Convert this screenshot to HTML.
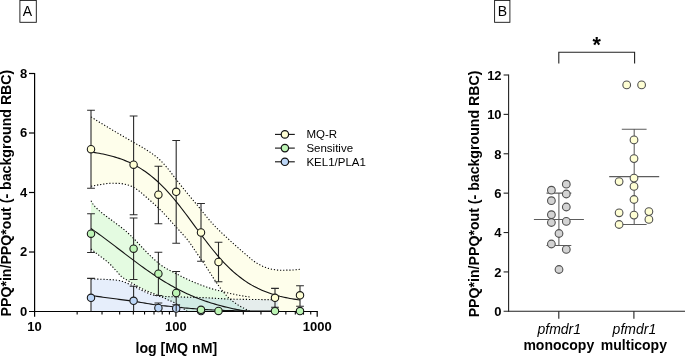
<!DOCTYPE html>
<html lang="en">
<head>
<meta charset="utf-8">
<title>Figure</title>
<style>
html,body{margin:0;padding:0;background:#fff;}
body{width:685px;height:356px;overflow:hidden;}
svg{display:block;}
text{fill:#000;}
svg{will-change:transform;opacity:0.999;}
</style>
</head>
<body>
<svg width="685" height="356" viewBox="0 0 685 356">
<rect width="685" height="356" fill="#fff"/>
<path d="M91 200.8 L92.99 204.03 L94.97 206.52 L96.96 208.49 L98.95 210.35 L100.94 212.11 L102.92 213.74 L104.91 215.26 L106.9 216.75 L108.89 218.22 L110.88 219.66 L112.86 221.11 L114.85 222.59 L116.84 224.07 L118.83 225.55 L120.81 227.05 L122.8 228.59 L124.79 230.2 L126.78 231.91 L128.76 233.72 L130.75 235.6 L132.74 237.55 L134.72 239.53 L136.71 241.61 L138.7 243.73 L140.69 245.87 L142.68 247.97 L144.66 250.07 L146.65 252.16 L148.64 254.16 L150.62 256.05 L152.61 257.92 L154.6 259.76 L156.59 261.53 L158.57 263.21 L160.56 264.78 L162.55 266.2 L164.54 267.48 L166.53 268.65 L168.51 269.75 L170.5 270.79 L172.49 271.8 L174.48 272.81 L176.46 273.84 L178.45 274.88 L180.44 275.91 L182.43 276.93 L184.41 277.91 L186.4 278.86 L188.39 279.77 L190.38 280.66 L192.36 281.52 L194.35 282.36 L196.34 283.16 L198.32 283.93 L200.31 284.7 L202.3 285.46 L204.29 286.19 L206.28 286.91 L208.26 287.6 L210.25 288.26 L212.24 288.88 L214.23 289.47 L216.21 290.03 L218.2 290.57 L220.19 291.08 L222.18 291.58 L224.16 292.06 L226.15 292.53 L228.14 292.98 L230.12 293.43 L232.11 293.87 L234.1 294.29 L236.09 294.71 L238.08 295.11 L240.06 295.49 L242.05 295.84 L244.04 296.17 L246.03 296.47 L248.01 296.74 L250 297 L250 311.5 L187.5 311.5 L185.49 310.1 L183.48 308.71 L181.47 307.34 L179.46 305.91 L177.45 304.51 L175.44 303.23 L173.43 302.16 L171.42 301.26 L169.41 300.42 L167.4 299.52 L165.39 298.57 L163.38 297.62 L161.36 296.73 L159.35 295.91 L157.34 295.12 L155.33 294.33 L153.32 293.54 L151.31 292.76 L149.3 291.96 L147.29 291.13 L145.28 290.24 L143.27 289.28 L141.26 288.28 L139.25 287.23 L137.24 286.16 L135.23 285.04 L133.22 283.87 L131.21 282.67 L129.2 281.44 L127.19 280.25 L125.18 279.09 L123.17 277.83 L121.16 276.33 L119.15 274.21 L117.14 271.88 L115.12 269.62 L113.11 267.39 L111.1 265.26 L109.09 263.31 L107.08 261.55 L105.07 259.91 L103.06 258.36 L101.05 256.85 L99.04 255.34 L97.03 253.81 L95.02 252.22 L93.01 250.61 L91 249Z" fill="#e4fbe1"/>
<path d="M91 116.9 L93.01 118.16 L95.02 119.42 L97.03 120.68 L99.04 121.92 L101.05 123.16 L103.06 124.39 L105.07 125.62 L107.08 126.84 L109.09 128.05 L111.1 129.26 L113.11 130.46 L115.12 131.65 L117.12 132.82 L119.13 133.99 L121.14 135.15 L123.15 136.31 L125.16 137.47 L127.17 138.62 L129.18 139.78 L131.19 140.94 L133.2 142.11 L135.21 143.27 L137.22 144.41 L139.23 145.55 L141.24 146.7 L143.25 147.89 L145.26 149.13 L147.27 150.42 L149.28 151.73 L151.29 153.09 L153.3 154.5 L155.31 156 L157.32 157.6 L159.33 159.34 L161.34 161.3 L163.35 163.44 L165.36 165.7 L167.37 168.03 L169.38 170.51 L171.38 173.13 L173.39 175.8 L175.4 178.44 L177.41 180.99 L179.42 183.52 L181.43 186.04 L183.44 188.54 L185.45 191.02 L187.46 193.48 L189.47 195.91 L191.48 198.31 L193.49 200.69 L195.5 203.07 L197.51 205.47 L199.52 207.94 L201.53 210.44 L203.54 212.95 L205.55 215.45 L207.56 217.91 L209.57 220.31 L211.58 222.61 L213.59 224.81 L215.6 226.9 L217.61 228.92 L219.62 230.88 L221.62 232.79 L223.63 234.66 L225.64 236.52 L227.65 238.35 L229.66 240.19 L231.67 242.03 L233.68 243.85 L235.69 245.65 L237.7 247.43 L239.71 249.19 L241.72 250.94 L243.73 252.67 L245.74 254.39 L247.75 256.1 L249.76 257.86 L251.77 259.57 L253.78 261.15 L255.79 262.51 L257.8 263.74 L259.81 264.86 L261.82 265.86 L263.83 266.71 L265.84 267.5 L267.85 268.21 L269.86 268.8 L271.87 269.23 L273.88 269.58 L275.88 269.89 L277.89 270.11 L279.9 270.2 L281.91 270.2 L283.92 270.18 L285.93 270.16 L287.94 270.13 L289.95 270.1 L291.96 270.03 L293.97 269.91 L295.98 269.73 L297.99 269.53 L300 269.3 L300 311.5 L251 311.5 L249 310.66 L247 309.77 L245 308.82 L243 307.83 L241 306.76 L239 305.57 L237 304.31 L235 302.95 L233 301.49 L231 299.9 L229 298.18 L227 296.22 L225 293.97 L223 291.54 L221 289.02 L219 286.28 L217 283.42 L215 280.46 L213 277.39 L211 274.27 L209 271.13 L207 268.02 L205 265 L203 262.06 L201 259.18 L199 256.31 L197 253.43 L195 250.49 L193 247.47 L191 244.51 L189 241.72 L187 239.17 L185 236.8 L183 234.54 L181 232.35 L179 230.19 L177 228.01 L175 225.78 L173 223.54 L171 221.31 L169 219.1 L167 216.9 L165 214.71 L163 212.56 L161 210.5 L159 208.55 L157 206.67 L155 204.84 L153 203.03 L151 201.25 L149 199.5 L147 197.78 L145 196.07 L143 194.33 L141 192.59 L139 190.94 L137 189.44 L135 188.11 L133 187 L131 186.12 L129 185.36 L127 184.74 L125 184.28 L123 183.87 L121 183.55 L119 183.4 L117 183.36 L115 183.33 L113 183.31 L111 183.3 L109 183.34 L107 183.53 L105 183.83 L103 184.16 L101 184.47 L99 184.79 L97 185.13 L95 185.5 L93 185.89 L91 186.3Z" fill="#fefeeb"/>
<path d="M91 279 L92.99 279.03 L94.98 279.07 L96.97 279.12 L98.96 279.17 L100.95 279.23 L102.94 279.29 L104.93 279.37 L106.91 279.45 L108.9 279.55 L110.89 279.66 L112.88 279.79 L114.87 279.95 L116.86 280.18 L118.85 280.49 L120.84 280.89 L122.83 281.48 L124.82 282.23 L126.81 283.06 L128.8 283.9 L130.79 284.78 L132.78 285.73 L134.77 286.73 L136.76 287.73 L138.74 288.73 L140.73 289.78 L142.72 290.83 L144.71 291.81 L146.7 292.66 L148.69 293.46 L150.68 294.21 L152.67 294.86 L154.66 295.34 L156.65 295.66 L158.64 295.93 L160.63 296.15 L162.62 296.32 L164.61 296.45 L166.6 296.55 L168.59 296.64 L170.57 296.72 L172.56 296.79 L174.55 296.85 L176.54 296.92 L178.53 296.98 L180.52 297.03 L182.51 297.08 L184.5 297.12 L186.49 297.16 L188.48 297.21 L190.47 297.25 L192.46 297.29 L194.45 297.34 L196.44 297.39 L198.43 297.45 L200.41 297.51 L202.4 297.59 L204.39 297.68 L206.38 297.78 L208.37 297.89 L210.36 298.01 L212.35 298.13 L214.34 298.26 L216.33 298.39 L218.32 298.51 L220.31 298.63 L222.3 298.74 L224.29 298.84 L226.28 298.94 L228.27 299.02 L230.26 299.08 L232.24 299.13 L234.23 299.18 L236.22 299.22 L238.21 299.26 L240.2 299.29 L242.19 299.33 L244.18 299.36 L246.17 299.39 L248.16 299.42 L250.15 299.44 L252.14 299.47 L254.13 299.49 L256.12 299.51 L258.11 299.53 L260.1 299.56 L262.09 299.58 L264.07 299.6 L266.06 299.62 L268.05 299.63 L270.04 299.65 L272.03 299.66 L274.02 299.68 L276.01 299.69 L278 299.7 L278 311.5 L276.01 311.5 L274.02 311.5 L272.03 311.5 L270.04 311.5 L268.05 311.5 L266.06 311.5 L264.07 311.5 L262.09 311.5 L260.1 311.5 L258.11 311.5 L256.12 311.5 L254.13 311.5 L252.14 311.5 L250.15 311.5 L248.16 311.5 L246.17 311.5 L244.18 311.5 L242.19 311.5 L240.2 311.5 L238.21 311.5 L236.22 311.5 L234.23 311.5 L232.24 311.5 L230.26 311.5 L228.27 311.5 L226.28 311.5 L224.29 311.5 L222.3 311.5 L220.31 311.5 L218.32 311.5 L216.33 311.5 L214.34 311.5 L212.35 311.5 L210.36 311.5 L208.37 311.5 L206.38 311.5 L204.39 311.5 L202.4 311.5 L200.41 311.5 L198.43 311.5 L196.44 311.5 L194.45 311.5 L192.46 311.5 L190.47 311.5 L188.48 311.5 L186.49 311.5 L184.5 311.5 L182.51 311.5 L180.52 311.5 L178.53 311.5 L176.54 311.5 L174.55 311.5 L172.56 311.5 L170.57 311.5 L168.59 311.5 L166.6 311.5 L164.61 311.5 L162.62 311.5 L160.63 311.5 L158.64 311.5 L156.65 311.5 L154.66 311.5 L152.67 311.5 L150.68 311.5 L148.69 311.5 L146.7 311.5 L144.71 311.5 L142.72 311.5 L140.73 311.5 L138.74 311.5 L136.76 311.5 L134.77 311.5 L132.78 311.5 L130.79 311.5 L128.8 311.5 L126.81 311.5 L124.82 311.5 L122.83 311.5 L120.84 311.5 L118.85 311.5 L116.86 311.5 L114.87 311.5 L112.88 311.5 L110.89 311.5 L108.9 311.5 L106.91 311.5 L104.93 311.5 L102.94 311.5 L100.95 311.5 L98.96 311.5 L96.97 311.5 L94.98 311.5 L92.99 311.5 L91 311.5Z" fill="rgba(150,185,240,0.24)"/>
<path d="M91 279 L92.99 279.03 L94.98 279.07 L96.97 279.12 L98.96 279.17 L100.95 279.23 L102.94 279.29 L104.93 279.37 L106.91 279.45 L108.9 279.55 L110.89 279.66 L112.88 279.79 L114.87 279.95 L116.86 280.18 L118.85 280.49 L120.84 280.89 L122.83 281.48 L124.82 282.23 L126.81 283.06 L128.8 283.9 L130.79 284.78 L132.78 285.73 L134.77 286.73 L136.76 287.73 L138.74 288.73 L140.73 289.78 L142.72 290.83 L144.71 291.81 L146.7 292.66 L148.69 293.46 L150.68 294.21 L152.67 294.86 L154.66 295.34 L156.65 295.66 L158.64 295.93 L160.63 296.15 L162.62 296.32 L164.61 296.45 L166.6 296.55 L168.59 296.64 L170.57 296.72 L172.56 296.79 L174.55 296.85 L176.54 296.92 L178.53 296.98 L180.52 297.03 L182.51 297.08 L184.5 297.12 L186.49 297.16 L188.48 297.21 L190.47 297.25 L192.46 297.29 L194.45 297.34 L196.44 297.39 L198.43 297.45 L200.41 297.51 L202.4 297.59 L204.39 297.68 L206.38 297.78 L208.37 297.89 L210.36 298.01 L212.35 298.13 L214.34 298.26 L216.33 298.39 L218.32 298.51 L220.31 298.63 L222.3 298.74 L224.29 298.84 L226.28 298.94 L228.27 299.02 L230.26 299.08 L232.24 299.13 L234.23 299.18 L236.22 299.22 L238.21 299.26 L240.2 299.29 L242.19 299.33 L244.18 299.36 L246.17 299.39 L248.16 299.42 L250.15 299.44 L252.14 299.47 L254.13 299.49 L256.12 299.51 L258.11 299.53 L260.1 299.56 L262.09 299.58 L264.07 299.6 L266.06 299.62 L268.05 299.63 L270.04 299.65 L272.03 299.66 L274.02 299.68 L276.01 299.69 L278 299.7" fill="none" stroke="#000" stroke-width="1.1" stroke-dasharray="1.2 1.9"/>
<path d="M91 200.8 L92.99 204.03 L94.97 206.52 L96.96 208.49 L98.95 210.35 L100.94 212.11 L102.92 213.74 L104.91 215.26 L106.9 216.75 L108.89 218.22 L110.88 219.66 L112.86 221.11 L114.85 222.59 L116.84 224.07 L118.83 225.55 L120.81 227.05 L122.8 228.59 L124.79 230.2 L126.78 231.91 L128.76 233.72 L130.75 235.6 L132.74 237.55 L134.72 239.53 L136.71 241.61 L138.7 243.73 L140.69 245.87 L142.68 247.97 L144.66 250.07 L146.65 252.16 L148.64 254.16 L150.62 256.05 L152.61 257.92 L154.6 259.76 L156.59 261.53 L158.57 263.21 L160.56 264.78 L162.55 266.2 L164.54 267.48 L166.53 268.65 L168.51 269.75 L170.5 270.79 L172.49 271.8 L174.48 272.81 L176.46 273.84 L178.45 274.88 L180.44 275.91 L182.43 276.93 L184.41 277.91 L186.4 278.86 L188.39 279.77 L190.38 280.66 L192.36 281.52 L194.35 282.36 L196.34 283.16 L198.32 283.93 L200.31 284.7 L202.3 285.46 L204.29 286.19 L206.28 286.91 L208.26 287.6 L210.25 288.26 L212.24 288.88 L214.23 289.47 L216.21 290.03 L218.2 290.57 L220.19 291.08 L222.18 291.58 L224.16 292.06 L226.15 292.53 L228.14 292.98 L230.12 293.43 L232.11 293.87 L234.1 294.29 L236.09 294.71 L238.08 295.11 L240.06 295.49 L242.05 295.84 L244.04 296.17 L246.03 296.47 L248.01 296.74 L250 297" fill="none" stroke="#000" stroke-width="1.1" stroke-dasharray="1.2 1.9"/>
<path d="M91 249 L93.01 250.61 L95.02 252.22 L97.03 253.81 L99.04 255.34 L101.05 256.85 L103.06 258.36 L105.07 259.91 L107.08 261.55 L109.09 263.31 L111.1 265.26 L113.11 267.39 L115.12 269.62 L117.14 271.88 L119.15 274.21 L121.16 276.33 L123.17 277.83 L125.18 279.09 L127.19 280.25 L129.2 281.44 L131.21 282.67 L133.22 283.87 L135.23 285.04 L137.24 286.16 L139.25 287.23 L141.26 288.28 L143.27 289.28 L145.28 290.24 L147.29 291.13 L149.3 291.96 L151.31 292.76 L153.32 293.54 L155.33 294.33 L157.34 295.12 L159.35 295.91 L161.36 296.73 L163.38 297.62 L165.39 298.57 L167.4 299.52 L169.41 300.42 L171.42 301.26 L173.43 302.16 L175.44 303.23 L177.45 304.51 L179.46 305.91 L181.47 307.34 L183.48 308.71 L185.49 310.1 L187.5 311.5" fill="none" stroke="#000" stroke-width="1.1" stroke-dasharray="1.2 1.9"/>
<path d="M91 116.9 L93.01 118.16 L95.02 119.42 L97.03 120.68 L99.04 121.92 L101.05 123.16 L103.06 124.39 L105.07 125.62 L107.08 126.84 L109.09 128.05 L111.1 129.26 L113.11 130.46 L115.12 131.65 L117.12 132.82 L119.13 133.99 L121.14 135.15 L123.15 136.31 L125.16 137.47 L127.17 138.62 L129.18 139.78 L131.19 140.94 L133.2 142.11 L135.21 143.27 L137.22 144.41 L139.23 145.55 L141.24 146.7 L143.25 147.89 L145.26 149.13 L147.27 150.42 L149.28 151.73 L151.29 153.09 L153.3 154.5 L155.31 156 L157.32 157.6 L159.33 159.34 L161.34 161.3 L163.35 163.44 L165.36 165.7 L167.37 168.03 L169.38 170.51 L171.38 173.13 L173.39 175.8 L175.4 178.44 L177.41 180.99 L179.42 183.52 L181.43 186.04 L183.44 188.54 L185.45 191.02 L187.46 193.48 L189.47 195.91 L191.48 198.31 L193.49 200.69 L195.5 203.07 L197.51 205.47 L199.52 207.94 L201.53 210.44 L203.54 212.95 L205.55 215.45 L207.56 217.91 L209.57 220.31 L211.58 222.61 L213.59 224.81 L215.6 226.9 L217.61 228.92 L219.62 230.88 L221.62 232.79 L223.63 234.66 L225.64 236.52 L227.65 238.35 L229.66 240.19 L231.67 242.03 L233.68 243.85 L235.69 245.65 L237.7 247.43 L239.71 249.19 L241.72 250.94 L243.73 252.67 L245.74 254.39 L247.75 256.1 L249.76 257.86 L251.77 259.57 L253.78 261.15 L255.79 262.51 L257.8 263.74 L259.81 264.86 L261.82 265.86 L263.83 266.71 L265.84 267.5 L267.85 268.21 L269.86 268.8 L271.87 269.23 L273.88 269.58 L275.88 269.89 L277.89 270.11 L279.9 270.2 L281.91 270.2 L283.92 270.18 L285.93 270.16 L287.94 270.13 L289.95 270.1 L291.96 270.03 L293.97 269.91 L295.98 269.73 L297.99 269.53 L300 269.3" fill="none" stroke="#000" stroke-width="1.1" stroke-dasharray="1.2 1.9"/>
<path d="M91 186.3 L93 185.89 L95 185.5 L97 185.13 L99 184.79 L101 184.47 L103 184.16 L105 183.83 L107 183.53 L109 183.34 L111 183.3 L113 183.31 L115 183.33 L117 183.36 L119 183.4 L121 183.55 L123 183.87 L125 184.28 L127 184.74 L129 185.36 L131 186.12 L133 187 L135 188.11 L137 189.44 L139 190.94 L141 192.59 L143 194.33 L145 196.07 L147 197.78 L149 199.5 L151 201.25 L153 203.03 L155 204.84 L157 206.67 L159 208.55 L161 210.5 L163 212.56 L165 214.71 L167 216.9 L169 219.1 L171 221.31 L173 223.54 L175 225.78 L177 228.01 L179 230.19 L181 232.35 L183 234.54 L185 236.8 L187 239.17 L189 241.72 L191 244.51 L193 247.47 L195 250.49 L197 253.43 L199 256.31 L201 259.18 L203 262.06 L205 265 L207 268.02 L209 271.13 L211 274.27 L213 277.39 L215 280.46 L217 283.42 L219 286.28 L221 289.02 L223 291.54 L225 293.97 L227 296.22 L229 298.18 L231 299.9 L233 301.49 L235 302.95 L237 304.31 L239 305.57 L241 306.76 L243 307.83 L245 308.82 L247 309.77 L249 310.66 L251 311.5" fill="none" stroke="#000" stroke-width="1.1" stroke-dasharray="1.2 1.9"/>
<path d="M34.6 72.9 V316.7" stroke="#000" stroke-width="1.2" fill="none"/>
<path d="M29 311.5 H317.8" stroke="#000" stroke-width="1.2" fill="none"/>
<path d="M29 252 H34.6" stroke="#000" stroke-width="1.2" fill="none"/>
<path d="M29 192.5 H34.6" stroke="#000" stroke-width="1.2" fill="none"/>
<path d="M29 133 H34.6" stroke="#000" stroke-width="1.2" fill="none"/>
<path d="M29 73.5 H34.6" stroke="#000" stroke-width="1.2" fill="none"/>
<path d="M175.9 311.5 V316.7" stroke="#000" stroke-width="1.2" fill="none"/>
<path d="M317.2 311.5 V316.7" stroke="#000" stroke-width="1.2" fill="none"/>
<path d="M77.14 311.5 V314.6" stroke="#000" stroke-width="1.1" fill="none"/>
<path d="M102.02 311.5 V314.6" stroke="#000" stroke-width="1.1" fill="none"/>
<path d="M119.67 311.5 V314.6" stroke="#000" stroke-width="1.1" fill="none"/>
<path d="M133.36 311.5 V314.6" stroke="#000" stroke-width="1.1" fill="none"/>
<path d="M144.55 311.5 V314.6" stroke="#000" stroke-width="1.1" fill="none"/>
<path d="M154.01 311.5 V314.6" stroke="#000" stroke-width="1.1" fill="none"/>
<path d="M162.21 311.5 V314.6" stroke="#000" stroke-width="1.1" fill="none"/>
<path d="M169.43 311.5 V314.6" stroke="#000" stroke-width="1.1" fill="none"/>
<path d="M218.44 311.5 V314.6" stroke="#000" stroke-width="1.1" fill="none"/>
<path d="M243.32 311.5 V314.6" stroke="#000" stroke-width="1.1" fill="none"/>
<path d="M260.97 311.5 V314.6" stroke="#000" stroke-width="1.1" fill="none"/>
<path d="M274.66 311.5 V314.6" stroke="#000" stroke-width="1.1" fill="none"/>
<path d="M285.85 311.5 V314.6" stroke="#000" stroke-width="1.1" fill="none"/>
<path d="M295.31 311.5 V314.6" stroke="#000" stroke-width="1.1" fill="none"/>
<path d="M303.51 311.5 V314.6" stroke="#000" stroke-width="1.1" fill="none"/>
<path d="M310.73 311.5 V314.6" stroke="#000" stroke-width="1.1" fill="none"/>
<path d="M91 278.4 V311.2M87.1 278.4 H94.9" stroke="#2a2a2a" stroke-width="1.1" fill="none"/>
<path d="M133.6 286.3 V311.2M129.7 286.3 H137.5" stroke="#2a2a2a" stroke-width="1.1" fill="none"/>
<path d="M158.4 303 V311.2M154.5 303 H162.3" stroke="#2a2a2a" stroke-width="1.1" fill="none"/>
<path d="M176.2 304.7 V311.2M172.3 304.7 H180.1" stroke="#2a2a2a" stroke-width="1.1" fill="none"/>
<path d="M91 295.5 L93 295.78 L95 296.06 L97 296.34 L99 296.62 L101 296.89 L103 297.17 L105 297.44 L107 297.72 L109 297.99 L111 298.26 L113 298.54 L115 298.8 L117 299.07 L119 299.33 L121 299.59 L123 299.85 L125 300.11 L127 300.37 L129 300.64 L131 300.92 L133 301.2 L135 301.49 L137 301.8 L139 302.12 L141 302.45 L143 302.79 L145 303.13 L147 303.47 L149 303.8 L151 304.13 L153 304.44 L155 304.73 L157 305.01 L159 305.26 L161 305.49 L163 305.71 L165 305.92 L167 306.12 L169 306.32 L171 306.51 L173 306.7 L175 306.9 L177 307.1 L179 307.31 L181 307.52 L183 307.73 L185 307.93 L187 308.13 L189 308.31 L191 308.48 L193 308.65 L195 308.81 L197 308.97 L199 309.12 L201 309.27 L203 309.4 L205 309.53 L207 309.65 L209 309.75 L211 309.86 L213 309.96 L215 310.05 L217 310.14 L219 310.23 L221 310.31 L223 310.39 L225 310.46 L227 310.52 L229 310.58 L231 310.62 L233 310.67 L235 310.71 L237 310.74 L239 310.78 L241 310.81 L243 310.84 L245 310.87 L247 310.9 L249 310.93 L251 310.95 L253 310.98 L255 311 L257 311.02 L259 311.04 L261 311.07 L263 311.09 L265 311.11 L267 311.12 L269 311.14 L271 311.16 L273 311.17 L275 311.19 L277 311.2" fill="none" stroke="#111" stroke-width="1.1"/>
<circle cx="91" cy="297.8" r="3.7" fill="#bcd6f7" stroke="#1a1a1a" stroke-width="1.1"/>
<circle cx="133.6" cy="300.8" r="3.7" fill="#bcd6f7" stroke="#1a1a1a" stroke-width="1.1"/>
<circle cx="158.4" cy="308" r="3.7" fill="#bcd6f7" stroke="#1a1a1a" stroke-width="1.1"/>
<circle cx="176.2" cy="308.5" r="3.7" fill="#bcd6f7" stroke="#1a1a1a" stroke-width="1.1"/>
<circle cx="201" cy="311" r="3.7" fill="#bcd6f7" stroke="#1a1a1a" stroke-width="1.1"/>
<path d="M91 213.8 V252.5M87.1 213.8 H94.9M87.1 252.5 H94.9" stroke="#2a2a2a" stroke-width="1.1" fill="none"/>
<path d="M133.6 218 V279.5M129.7 218 H137.5M129.7 279.5 H137.5" stroke="#2a2a2a" stroke-width="1.1" fill="none"/>
<path d="M158.4 252.2 V295.5M154.5 252.2 H162.3M154.5 295.5 H162.3" stroke="#2a2a2a" stroke-width="1.1" fill="none"/>
<path d="M176.2 271.5 V311.2M172.3 271.5 H180.1" stroke="#2a2a2a" stroke-width="1.1" fill="none"/>
<path d="M91 228.53 L93 229.92 L95 231.33 L97 232.76 L99 234.2 L101 235.66 L103 237.13 L105 238.61 L107 240.11 L109 241.61 L111 243.13 L113 244.65 L115 246.18 L117 247.71 L119 249.24 L121 250.77 L123 252.31 L125 253.84 L127 255.36 L129 256.89 L131 258.4 L133 259.91 L135 261.41 L137 262.9 L139 264.37 L141 265.83 L143 267.28 L145 268.71 L147 270.13 L149 271.52 L151 272.9 L153 274.26 L155 275.59 L157 276.91 L159 278.2 L161 279.47 L163 280.71 L165 281.93 L167 283.13 L169 284.3 L171 285.44 L173 286.56 L175 287.65 L177 288.72 L179 289.76 L181 290.77 L183 291.76 L185 292.72 L187 293.65 L189 294.56 L191 295.45 L193 296.3 L195 297.14 L197 297.94 L199 298.73 L201 299.49 L203 300.22 L205 300.93 L207 301.62 L209 302.29 L211 302.93 L213 303.55 L215 304.15 L217 304.73 L219 305.29 L221 305.84 L223 306.36 L225 306.86 L227 307.34 L229 307.81 L231 308.26 L233 308.69 L235 309.11 L237 309.51 L239 309.9 L241 310.27 L243 310.63 L245 310.97 L247 311.3" fill="none" stroke="#111" stroke-width="1.1"/>
<circle cx="91" cy="233.7" r="3.7" fill="#bdf5b5" stroke="#1a1a1a" stroke-width="1.1"/>
<circle cx="133.6" cy="248.7" r="3.7" fill="#bdf5b5" stroke="#1a1a1a" stroke-width="1.1"/>
<circle cx="158.4" cy="273.7" r="3.7" fill="#bdf5b5" stroke="#1a1a1a" stroke-width="1.1"/>
<circle cx="176.2" cy="293" r="3.7" fill="#bdf5b5" stroke="#1a1a1a" stroke-width="1.1"/>
<circle cx="201" cy="309.8" r="3.7" fill="#bdf5b5" stroke="#1a1a1a" stroke-width="1.1"/>
<circle cx="218.5" cy="310.9" r="3.7" fill="#bdf5b5" stroke="#1a1a1a" stroke-width="1.1"/>
<circle cx="275" cy="311.1" r="3.7" fill="#bdf5b5" stroke="#1a1a1a" stroke-width="1.1"/>
<circle cx="300" cy="311.1" r="3.7" fill="#bdf5b5" stroke="#1a1a1a" stroke-width="1.1"/>
<path d="M91 110.3 V188.3M87.1 110.3 H94.9M87.1 188.3 H94.9" stroke="#2a2a2a" stroke-width="1.1" fill="none"/>
<path d="M133.6 116 V214.7M129.7 116 H137.5M129.7 214.7 H137.5" stroke="#2a2a2a" stroke-width="1.1" fill="none"/>
<path d="M158.4 166.2 V223.7M154.5 166.2 H162.3M154.5 223.7 H162.3" stroke="#2a2a2a" stroke-width="1.1" fill="none"/>
<path d="M176.2 140.5 V243.2M172.3 140.5 H180.1M172.3 243.2 H180.1" stroke="#2a2a2a" stroke-width="1.1" fill="none"/>
<path d="M201 203.5 V261.3M197.1 203.5 H204.9M197.1 261.3 H204.9" stroke="#2a2a2a" stroke-width="1.1" fill="none"/>
<path d="M218.5 242.3 V281.7M214.6 242.3 H222.4M214.6 281.7 H222.4" stroke="#2a2a2a" stroke-width="1.1" fill="none"/>
<path d="M275 288.4 V307.2M271.1 288.4 H278.9M271.1 307.2 H278.9" stroke="#2a2a2a" stroke-width="1.1" fill="none"/>
<path d="M300 285.7 V306.2M296.1 285.7 H303.9M296.1 306.2 H303.9" stroke="#2a2a2a" stroke-width="1.1" fill="none"/>
<path d="M91 152.03 L93.01 152.32 L95.02 152.63 L97.03 152.96 L99.04 153.31 L101.05 153.68 L103.06 154.08 L105.07 154.51 L107.08 154.96 L109.09 155.45 L111.1 155.96 L113.11 156.51 L115.12 157.1 L117.12 157.72 L119.13 158.38 L121.14 159.09 L123.15 159.83 L125.16 160.63 L127.17 161.47 L129.18 162.36 L131.19 163.3 L133.2 164.3 L135.21 165.35 L137.22 166.47 L139.23 167.64 L141.24 168.88 L143.25 170.18 L145.26 171.55 L147.27 172.99 L149.28 174.5 L151.29 176.08 L153.3 177.73 L155.31 179.46 L157.32 181.26 L159.33 183.13 L161.34 185.08 L163.35 187.1 L165.36 189.19 L167.37 191.35 L169.38 193.58 L171.38 195.88 L173.39 198.24 L175.4 200.66 L177.41 203.13 L179.42 205.65 L181.43 208.23 L183.44 210.84 L185.45 213.49 L187.46 216.16 L189.47 218.87 L191.48 221.58 L193.49 224.31 L195.5 227.05 L197.51 229.78 L199.52 232.5 L201.53 235.2 L203.54 237.88 L205.55 240.54 L207.56 243.15 L209.57 245.73 L211.58 248.26 L213.59 250.75 L215.6 253.17 L217.61 255.54 L219.62 257.85 L221.62 260.09 L223.63 262.26 L225.64 264.36 L227.65 266.39 L229.66 268.35 L231.67 270.24 L233.68 272.05 L235.69 273.79 L237.7 275.45 L239.71 277.04 L241.72 278.56 L243.73 280.01 L245.74 281.39 L247.75 282.71 L249.76 283.95 L251.77 285.14 L253.78 286.26 L255.79 287.32 L257.8 288.33 L259.81 289.28 L261.82 290.18 L263.83 291.03 L265.84 291.83 L267.85 292.58 L269.86 293.29 L271.87 293.96 L273.88 294.59 L275.88 295.18 L277.89 295.73 L279.9 296.26 L281.91 296.74 L283.92 297.2 L285.93 297.63 L287.94 298.04 L289.95 298.42 L291.96 298.77 L293.97 299.1 L295.98 299.41 L297.99 299.7 L300 299.97" fill="none" stroke="#111" stroke-width="1.1"/>
<circle cx="91" cy="149.2" r="3.7" fill="#ffffd4" stroke="#1a1a1a" stroke-width="1.1"/>
<circle cx="133.6" cy="164.7" r="3.7" fill="#ffffd4" stroke="#1a1a1a" stroke-width="1.1"/>
<circle cx="158.4" cy="194.7" r="3.7" fill="#ffffd4" stroke="#1a1a1a" stroke-width="1.1"/>
<circle cx="176.2" cy="191.8" r="3.7" fill="#ffffd4" stroke="#1a1a1a" stroke-width="1.1"/>
<circle cx="201" cy="232.5" r="3.7" fill="#ffffd4" stroke="#1a1a1a" stroke-width="1.1"/>
<circle cx="218.5" cy="262" r="3.7" fill="#ffffd4" stroke="#1a1a1a" stroke-width="1.1"/>
<circle cx="275" cy="297.8" r="3.7" fill="#ffffd4" stroke="#1a1a1a" stroke-width="1.1"/>
<circle cx="300" cy="295.3" r="3.7" fill="#ffffd4" stroke="#1a1a1a" stroke-width="1.1"/>
<text x="27.2" y="315.9" text-anchor="end" font-size="13" font-family="Liberation Sans, Arial, sans-serif" font-weight="bold">0</text>
<text x="27.2" y="256.4" text-anchor="end" font-size="13" font-family="Liberation Sans, Arial, sans-serif" font-weight="bold">2</text>
<text x="27.2" y="196.9" text-anchor="end" font-size="13" font-family="Liberation Sans, Arial, sans-serif" font-weight="bold">4</text>
<text x="27.2" y="137.4" text-anchor="end" font-size="13" font-family="Liberation Sans, Arial, sans-serif" font-weight="bold">6</text>
<text x="27.2" y="77.9" text-anchor="end" font-size="13" font-family="Liberation Sans, Arial, sans-serif" font-weight="bold">8</text>
<text x="34.6" y="330.8" text-anchor="middle" font-size="13" font-family="Liberation Sans, Arial, sans-serif" font-weight="bold">10</text>
<text x="175.9" y="330.8" text-anchor="middle" font-size="13" font-family="Liberation Sans, Arial, sans-serif" font-weight="bold">100</text>
<text x="317.2" y="330.8" text-anchor="middle" font-size="13" font-family="Liberation Sans, Arial, sans-serif" font-weight="bold">1000</text>
<text x="176.3" y="352.7" text-anchor="middle" font-size="14.15" font-family="Liberation Sans, Arial, sans-serif" font-weight="bold">log [MQ nM]</text>
<text transform="translate(11 193.1) rotate(-90)" text-anchor="middle" font-size="14.15" font-family="Liberation Sans, Arial, sans-serif" font-weight="bold">PPQ*in/PPQ*out (- background RBC)</text>
<rect x="19.9" y="0.4" width="16.4" height="21.9" fill="#fff" stroke="#111" stroke-width="0.9"/>
<text x="27.5" y="15.9" text-anchor="middle" font-size="14" font-family="Liberation Sans, Arial, sans-serif">A</text>
<rect x="494.6" y="0.4" width="15.3" height="21.9" fill="#fff" stroke="#111" stroke-width="0.9"/>
<text x="502.5" y="16.1" text-anchor="middle" font-size="14" font-family="Liberation Sans, Arial, sans-serif">B</text>
<path d="M275 134.4 H294.8" stroke="#111" stroke-width="1.1"/>
<circle cx="284.9" cy="134.4" r="3.7" fill="#ffffd4" stroke="#111" stroke-width="1.2"/>
<text x="306.4" y="138.3" font-size="11.5" font-family="Liberation Sans, Arial, sans-serif">MQ-R</text>
<path d="M275 148.1 H294.8" stroke="#111" stroke-width="1.1"/>
<circle cx="284.9" cy="148.1" r="3.7" fill="#bdf5b5" stroke="#111" stroke-width="1.2"/>
<text x="306.4" y="152" font-size="11.5" font-family="Liberation Sans, Arial, sans-serif">Sensitive</text>
<path d="M275 161.8 H294.8" stroke="#111" stroke-width="1.1"/>
<circle cx="284.9" cy="161.8" r="3.7" fill="#bcd6f7" stroke="#111" stroke-width="1.2"/>
<text x="306.4" y="165.7" font-size="11.5" font-family="Liberation Sans, Arial, sans-serif">KEL1/PLA1</text>
<path d="M508.6 74.5 V311.8" stroke="#222" stroke-width="1.1" fill="none"/>
<path d="M503.6 311.3 H686" stroke="#222" stroke-width="1.1" fill="none"/>
<path d="M503.6 271.92 H508.6" stroke="#222" stroke-width="1.1" fill="none"/>
<path d="M503.6 232.53 H508.6" stroke="#222" stroke-width="1.1" fill="none"/>
<path d="M503.6 193.15 H508.6" stroke="#222" stroke-width="1.1" fill="none"/>
<path d="M503.6 153.77 H508.6" stroke="#222" stroke-width="1.1" fill="none"/>
<path d="M503.6 114.38 H508.6" stroke="#222" stroke-width="1.1" fill="none"/>
<path d="M503.6 75 H508.6" stroke="#222" stroke-width="1.1" fill="none"/>
<path d="M558.8 311.3 V318.7" stroke="#222" stroke-width="1.1" fill="none"/>
<path d="M633.9 311.3 V318.7" stroke="#222" stroke-width="1.1" fill="none"/>
<text x="501.6" y="316.25" text-anchor="end" font-size="13" font-family="Liberation Sans, Arial, sans-serif" font-weight="bold">0</text>
<text x="501.6" y="276.87" text-anchor="end" font-size="13" font-family="Liberation Sans, Arial, sans-serif" font-weight="bold">2</text>
<text x="501.6" y="237.48" text-anchor="end" font-size="13" font-family="Liberation Sans, Arial, sans-serif" font-weight="bold">4</text>
<text x="501.6" y="198.1" text-anchor="end" font-size="13" font-family="Liberation Sans, Arial, sans-serif" font-weight="bold">6</text>
<text x="501.6" y="158.72" text-anchor="end" font-size="13" font-family="Liberation Sans, Arial, sans-serif" font-weight="bold">8</text>
<text x="501.6" y="119.33" text-anchor="end" font-size="13" font-family="Liberation Sans, Arial, sans-serif" font-weight="bold">10</text>
<text x="501.6" y="79.95" text-anchor="end" font-size="13" font-family="Liberation Sans, Arial, sans-serif" font-weight="bold">12</text>
<text transform="translate(478.7 194) rotate(-90)" text-anchor="middle" font-size="14.15" font-family="Liberation Sans, Arial, sans-serif" font-weight="bold">PPQ*in/PPQ*out (- background RBC)</text>
<text x="559.3" y="333.5" text-anchor="middle" font-size="14" font-family="Liberation Sans, Arial, sans-serif" font-style="italic">pfmdr1</text>
<text x="558.8" y="350" text-anchor="middle" font-size="14" font-family="Liberation Sans, Arial, sans-serif" font-weight="bold">monocopy</text>
<text x="634.4" y="333.5" text-anchor="middle" font-size="14" font-family="Liberation Sans, Arial, sans-serif" font-style="italic">pfmdr1</text>
<text x="633.9" y="350" text-anchor="middle" font-size="14" font-family="Liberation Sans, Arial, sans-serif" font-weight="bold">multicopy</text>
<path d="M558.8 63.4 V52.2 H634.6 V63.4" stroke="#222" stroke-width="1.1" fill="none"/>
<text x="596.8" y="51.7" text-anchor="middle" font-size="21.5" font-family="Liberation Sans, Arial, sans-serif" font-weight="bold">*</text>
<path d="M558.9 193.1 V245.4 M546.5 193.1 H571.3 M546.5 245.4 H571.3 M533.9 219.4 H583.9" stroke="#5c5c5c" stroke-width="1.05" fill="none"/>
<circle cx="566.3" cy="184.2" r="3.85" fill="#d3d3d3" stroke="#505050" stroke-width="1.1"/>
<circle cx="551.4" cy="190.2" r="3.85" fill="#d3d3d3" stroke="#505050" stroke-width="1.1"/>
<circle cx="566.3" cy="194" r="3.85" fill="#d3d3d3" stroke="#505050" stroke-width="1.1"/>
<circle cx="551.4" cy="200.7" r="3.85" fill="#d3d3d3" stroke="#505050" stroke-width="1.1"/>
<circle cx="566.3" cy="207" r="3.85" fill="#d3d3d3" stroke="#505050" stroke-width="1.1"/>
<circle cx="551.4" cy="214.7" r="3.85" fill="#d3d3d3" stroke="#505050" stroke-width="1.1"/>
<circle cx="551.4" cy="222.5" r="3.85" fill="#d3d3d3" stroke="#505050" stroke-width="1.1"/>
<circle cx="566.3" cy="221.4" r="3.85" fill="#d3d3d3" stroke="#505050" stroke-width="1.1"/>
<circle cx="559" cy="233.5" r="3.85" fill="#d3d3d3" stroke="#505050" stroke-width="1.1"/>
<circle cx="551.4" cy="244" r="3.85" fill="#d3d3d3" stroke="#505050" stroke-width="1.1"/>
<circle cx="566.3" cy="249.4" r="3.85" fill="#d3d3d3" stroke="#505050" stroke-width="1.1"/>
<circle cx="559" cy="269.5" r="3.85" fill="#d3d3d3" stroke="#505050" stroke-width="1.1"/>
<path d="M634.2 129.2 V224.5 M621.8 129.2 H646.6 M621.8 224.5 H646.6 M609.2 176.6 H659.2" stroke="#5c5c5c" stroke-width="1.05" fill="none"/>
<circle cx="626.7" cy="84.9" r="3.85" fill="#ffffd4" stroke="#505050" stroke-width="1.1"/>
<circle cx="641.6" cy="84.9" r="3.85" fill="#ffffd4" stroke="#505050" stroke-width="1.1"/>
<circle cx="634" cy="139.9" r="3.85" fill="#ffffd4" stroke="#505050" stroke-width="1.1"/>
<circle cx="634" cy="158.6" r="3.85" fill="#ffffd4" stroke="#505050" stroke-width="1.1"/>
<circle cx="634" cy="178.1" r="3.85" fill="#ffffd4" stroke="#505050" stroke-width="1.1"/>
<circle cx="619.1" cy="181.6" r="3.85" fill="#ffffd4" stroke="#505050" stroke-width="1.1"/>
<circle cx="634" cy="186.4" r="3.85" fill="#ffffd4" stroke="#505050" stroke-width="1.1"/>
<circle cx="634" cy="199.5" r="3.85" fill="#ffffd4" stroke="#505050" stroke-width="1.1"/>
<circle cx="619.1" cy="212.8" r="3.85" fill="#ffffd4" stroke="#505050" stroke-width="1.1"/>
<circle cx="634" cy="215.1" r="3.85" fill="#ffffd4" stroke="#505050" stroke-width="1.1"/>
<circle cx="648.9" cy="211.6" r="3.85" fill="#ffffd4" stroke="#505050" stroke-width="1.1"/>
<circle cx="648.9" cy="219.4" r="3.85" fill="#ffffd4" stroke="#505050" stroke-width="1.1"/>
<circle cx="619.1" cy="224.5" r="3.85" fill="#ffffd4" stroke="#505050" stroke-width="1.1"/>
</svg>
</body>
</html>
